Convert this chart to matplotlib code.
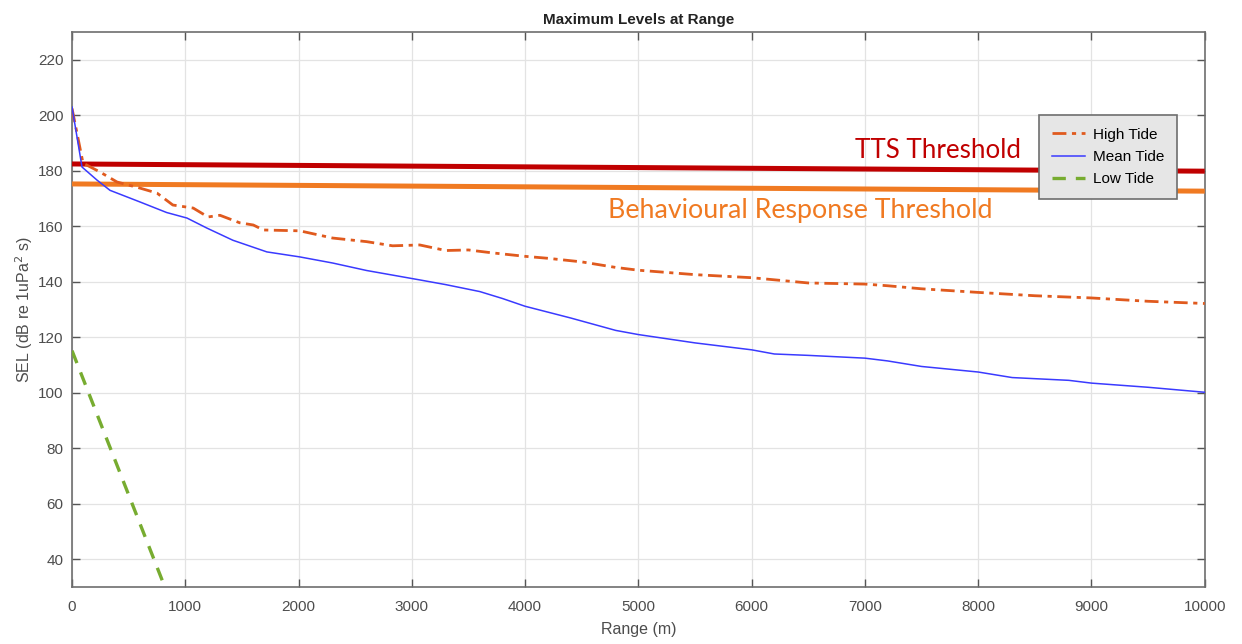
#!/usr/bin/env python3
"""Maximum SEL levels at range for three tide states, with threshold lines."""

import matplotlib

matplotlib.use("Agg")
import matplotlib.pyplot as plt

# High tide (dash-dot orange)
high_range = [0, 97, 247, 397, 600, 750, 890, 1070, 1200, 1306, 1480, 1600, 1690, 2010, 2300,
              2600, 2830, 3070, 3300, 3500, 3700, 4000, 4200, 4500, 4800, 5000, 5500, 6000,
              6500, 7000, 7200, 7500, 8000, 8500, 9000, 9500, 10000]
high_sel = [202.5, 182.8, 179.6, 176.0, 173.8, 172.0, 167.7, 166.6, 163.4, 164.0, 161.3, 160.5,
            158.7, 158.4, 155.8, 154.5, 153.0, 153.3, 151.3, 151.5, 150.5, 149.2, 148.5, 147.2,
            145.2, 144.2, 142.6, 141.5, 139.6, 139.2, 138.6, 137.5, 136.2, 135.0, 134.2, 133.0,
            132.2]

# Mean tide (solid blue)
mean_range = [0, 88, 220, 335, 600, 835, 1015, 1190, 1420, 1720, 2010, 2300, 2600, 3070, 3300,
              3600, 3800, 4000, 4400, 4800, 5000, 5500, 6000, 6200, 6500, 7000, 7200, 7500,
              8000, 8300, 8800, 9000, 9500, 10000]
mean_sel = [203.0, 181.4, 176.7, 173.0, 168.8, 165.0, 163.0, 159.4, 155.0, 150.8, 149.0, 146.8,
            144.1, 140.7, 139.0, 136.5, 134.0, 131.2, 127.0, 122.5, 121.0, 118.0, 115.5, 114.0,
            113.5, 112.5, 111.5, 109.5, 107.5, 105.5, 104.5, 103.5, 102.0, 100.2]

# Low tide (dashed green)
low_range = [0, 800]
low_sel = [115.2, 32.0]

# Threshold lines (drawn slightly sloped in the original)
tts_range = [0, 10000]
tts_sel = [182.5, 179.9]
beh_range = [0, 10000]
beh_sel = [175.3, 172.7]

x_ticks = list(range(0, 10001, 1000))
y_ticks = list(range(40, 221, 20))

plt.rcParams["font.family"] = ["Liberation Sans", "DejaVu Sans"]

fig = plt.figure(figsize=(12.42, 6.44), dpi=100)
ax = fig.add_axes([0.058, 0.0885, 0.912, 0.8615])

ax.plot(tts_range, tts_sel, color="#C00000", linewidth=3.6, solid_capstyle="butt", zorder=3)
ax.plot(beh_range, beh_sel, color="#F07A22", linewidth=3.6, solid_capstyle="butt", zorder=3)

ax.plot(high_range, high_sel, color="#E05A1E", linestyle=(0, (5, 2, 1.5, 2)), linewidth=2.0,
        label="High Tide", zorder=4)
ax.plot(mean_range, mean_sel, color="#3A3AFF", linewidth=1.1, label="Mean Tide", zorder=4)
ax.plot(low_range, low_sel, color="#77AC30", linestyle=(0, (4, 3)), linewidth=2.4,
        label="Low Tide", zorder=4)

ax.text(6910, 187.5, "TTS Threshold", color="#C00000", fontsize=18.7,
        family=["Lato", "DejaVu Sans"], va="center", ha="left", zorder=5)
ax.text(4730, 165.6, "Behavioural Response Threshold", color="#F07A22", fontsize=19.3,
        family=["Lato", "DejaVu Sans"], va="center", ha="left", zorder=5)

ax.set_xlim(0, 10000)
ax.set_ylim(30, 230)
ax.set_xticks(x_ticks)
ax.set_yticks(y_ticks)
ax.grid(True, color="#E3E3E3", linewidth=0.9)
ax.set_axisbelow(True)
ax.tick_params(direction="in", top=True, right=True, length=6, width=1.0, colors="#555555",
               labelcolor="#4D4D4D", labelsize=11)
ax.tick_params(axis="x", pad=9)
ax.tick_params(axis="y", pad=6)
for spine in ax.spines.values():
    spine.set_color("#6E6E6E")
    spine.set_linewidth(1.2)

ax.set_title("Maximum Levels at Range", fontsize=11, fontweight="bold", color="#222222", pad=6)
ax.set_xlabel("Range (m)", fontsize=11.5, color="#4D4D4D", labelpad=6)
ax.set_ylabel("SEL (dB re 1uPa$^2$ s)", fontsize=11.5, color="#4D4D4D", labelpad=2)

leg = ax.legend(loc="upper left", bbox_to_anchor=(0.8535, 0.8515), fontsize=11, frameon=True,
                fancybox=False, handlelength=2.2, handletextpad=0.5, borderpad=0.85,
                labelspacing=0.55, borderaxespad=0)
leg.get_frame().set_facecolor("#E6E6E6")
leg.get_frame().set_edgecolor("#6E6E6E")
leg.get_frame().set_linewidth(1.2)
leg.get_frame().set_alpha(1.0)
leg.set_zorder(10)

fig.savefig("out.png", dpi=100)
